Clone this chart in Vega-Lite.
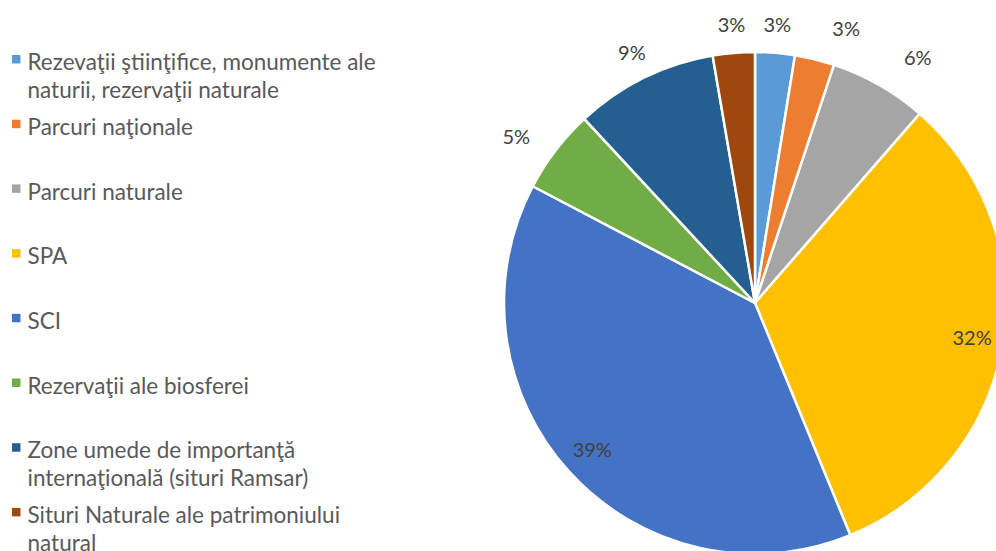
{
  "$schema": "https://vega.github.io/schema/vega-lite/v6.json",
  "width": 482,
  "height": 496,
  "autosize": "none",
  "padding": {"left": 514, "top": 55, "right": 0, "bottom": 0},
  "background": "white",
  "config": {
    "view": {"stroke": null},
    "style": {"guide-label": {"lineHeight": 28, "dy": -7}}
  },
  "data": {"values": [
    {"cat": "Rezevaţii ştiinţifice, monumente ale\nnaturii, rezervaţii naturale", "ord": 1, "share": 0.0255},
    {"cat": "Parcuri naţionale", "ord": 2, "share": 0.0255},
    {"cat": "Parcuri naturale", "ord": 3, "share": 0.063},
    {"cat": "SPA", "ord": 4, "share": 0.324},
    {"cat": "SCI", "ord": 5, "share": 0.389},
    {"cat": "Rezervaţii ale biosferei", "ord": 6, "share": 0.054},
    {"cat": "Zone umede de importanţă\ninternaţională (situri Ramsar)", "ord": 7, "share": 0.092},
    {"cat": "Situri Naturale ale patrimoniului\nnatural", "ord": 8, "share": 0.027}
  ]},
  "encoding": {
    "theta": {"field": "share", "type": "quantitative", "stack": true},
    "order": {"field": "ord", "type": "quantitative"}
  },
  "layer": [
    {
      "mark": {"type": "arc", "outerRadius": 251, "stroke": "white", "strokeWidth": 2.5},
      "encoding": {
        "color": {
          "field": "cat",
          "type": "nominal",
          "scale": {
            "domain": [
              "Rezevaţii ştiinţifice, monumente ale\nnaturii, rezervaţii naturale",
              "Parcuri naţionale",
              "Parcuri naturale",
              "SPA",
              "SCI",
              "Rezervaţii ale biosferei",
              "Zone umede de importanţă\ninternaţională (situri Ramsar)",
              "Situri Naturale ale patrimoniului\nnatural"
            ],
            "range": ["#5B9BD5", "#ED7D31", "#A5A5A5", "#FFC000", "#4472C4", "#70AD47", "#255E91", "#9E480E"]
          },
          "legend": {
            "orient": "none",
            "legendX": -509,
            "legendY": -7,
            "title": null,
            "symbolType": "square",
            "symbolSize": 72,
            "symbolStrokeWidth": 0,
            "labelFont": "Lato",
            "labelFontSize": 22.5,
            "labelColor": "#595959",
            "labelLimit": 500,
            "labelOffset": 0,
            "labelBaseline": "top",
            "rowPadding": 9.7,
            "labelExpr": "indexof(datum.label, '\\n') >= 0 ? split(datum.label, '\\n') : [datum.label, '']"
          }
        }
      }
    },
    {
      "mark": {"type": "text", "radius": 220, "font": "Lato", "fontSize": 20, "fill": "#404040"},
      "encoding": {
        "text": {"condition": {"test": "datum.share > 0.2", "field": "share", "type": "quantitative", "format": ".0%"}, "value": ""}
      }
    },
    {
      "mark": {"type": "text", "radius": 278, "font": "Lato", "fontSize": 20, "fill": "#404040"},
      "encoding": {
        "text": {"condition": {"test": "datum.ord == 1 || datum.ord == 7 || datum.ord == 8", "field": "share", "type": "quantitative", "format": ".0%"}, "value": ""}
      }
    },
    {
      "mark": {"type": "text", "radius": 278, "dx": 25, "dy": -3, "font": "Lato", "fontSize": 20, "fill": "#404040"},
      "encoding": {
        "text": {"condition": {"test": "datum.ord == 2 || datum.ord == 3", "field": "share", "type": "quantitative", "format": ".0%"}, "value": ""}
      }
    },
    {
      "mark": {"type": "text", "radius": 278, "dx": -18, "dy": 4, "font": "Lato", "fontSize": 20, "fill": "#404040"},
      "encoding": {
        "text": {"condition": {"test": "datum.ord == 6", "field": "share", "type": "quantitative", "format": ".0%"}, "value": ""}
      }
    }
  ]
}
